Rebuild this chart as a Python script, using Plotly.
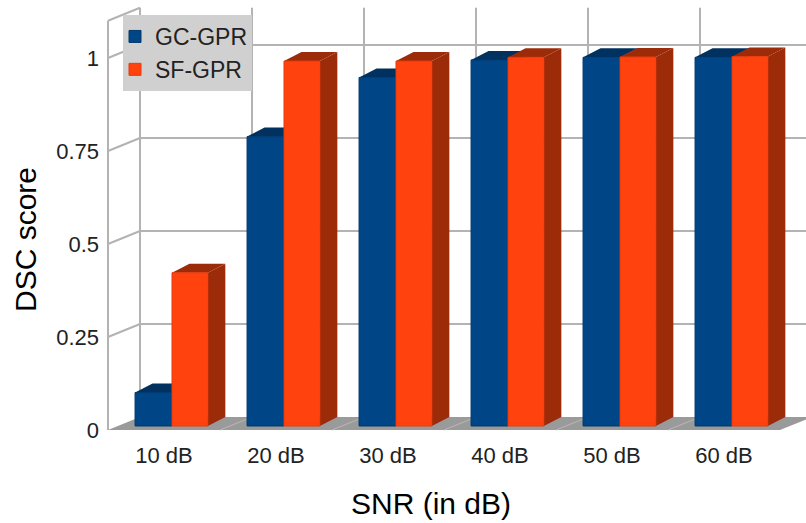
import plotly.graph_objects as go

# ---- data -------------------------------------------------------------
categories = ["10 dB", "20 dB", "30 dB", "40 dB", "50 dB", "60 dB"]
gc_gpr = [0.09, 0.778, 0.937, 0.984, 0.991, 0.991]
sf_gpr = [0.412, 0.981, 0.981, 0.991, 0.992, 0.993]
y_ticks = [0, 0.25, 0.5, 0.75, 1]
y_tick_text = ["0", "0.25", "0.5", "0.75", "1"]

# ---- canvas / scale ---------------------------------------------------
W, H = 806, 523
ML, MR, MT, MB = 100, 0, 0, 91
PX_X = 112.0          # pixels per category
PX_Y = 372.0          # pixels per unit of score
X0_PIX = 172.0        # pixel of category 0 (bar frame)
Y0_PIX = 426.0        # pixel of score 0 (bar frame)

x_range = [(ML - X0_PIX) / PX_X, (W - MR - X0_PIX) / PX_X]
y_range = [(Y0_PIX - (H - MB)) / PX_Y, (Y0_PIX - MT) / PX_Y]

# depth offsets (in data units) of the wall planes relative to bar fronts
BACK_DU, BACK_DV = 17.5 / PX_X, 9.0 / PX_Y
FRONT_DU, FRONT_DV = -14.5 / PX_X, -4.0 / PX_Y
BOUND0 = -0.442       # first category boundary
WALL_TOP = 1.1

BLUE, BLUE_TOP, BLUE_EDGE = "#004586", "#00315f", "#003a70"
ORANGE, ORANGE_TOP, ORANGE_EDGE = "#ff420e", "#9c2b09", "#e63b0c"
GRID = "#b3b3b3"
FLOOR = "#9a9a9a"
FONT = "Liberation Sans"

BAR_W_GC, OFF_GC = 0.33, -0.33
BAR_W_SF, OFF_SF = 0.32, 0.0

x_pos = list(range(len(categories)))

fig = go.Figure()
fig.add_bar(name="GC-GPR", x=x_pos, y=gc_gpr, width=BAR_W_GC, offset=OFF_GC,
            marker=dict(color=BLUE, line=dict(color=BLUE_EDGE, width=1)))
fig.add_bar(name="SF-GPR", x=x_pos, y=sf_gpr, width=BAR_W_SF, offset=OFF_SF,
            marker=dict(color=ORANGE, line=dict(color=ORANGE_EDGE, width=1)))

shapes = []


def poly(points, fill, line_color=None, width=0):
    d = "M" + " L".join(f"{px:.5f},{py:.5f}" for px, py in points) + " Z"
    return dict(type="path", path=d, xref="x", yref="y", layer="below",
                fillcolor=fill, line=dict(color=line_color or fill, width=width))


def seg(p, q, color=GRID, width=2):
    return dict(type="line", x0=p[0], y0=p[1], x1=q[0], y1=q[1],
                xref="x", yref="y", layer="below",
                line=dict(color=color, width=width))


n = len(categories)
bounds = [BOUND0 + k for k in range(n + 1)]

# back wall: horizontal gridlines and vertical category separators
for g in y_ticks[1:]:
    shapes.append(seg((bounds[0] + BACK_DU, g + BACK_DV),
                      (bounds[-1] + BACK_DU + 1, g + BACK_DV)))
for b in bounds:
    shapes.append(seg((b + BACK_DU, BACK_DV), (b + BACK_DU, WALL_TOP + BACK_DV)))

# left wall: front edge, top edge and tick diagonals
fx, bx = bounds[0] + FRONT_DU, bounds[0] + BACK_DU
shapes.append(seg((fx, FRONT_DV), (fx, WALL_TOP + FRONT_DV)))
shapes.append(seg((fx, WALL_TOP + FRONT_DV), (bx, WALL_TOP + BACK_DV)))
for g in y_ticks[1:]:
    shapes.append(seg((fx, g + FRONT_DV), (bx, g + BACK_DV)))

# floor
shapes.append(poly([(bounds[0] + FRONT_DU, FRONT_DV), (bounds[-1] + FRONT_DU, FRONT_DV),
                    (bounds[-1] + BACK_DU, BACK_DV), (bounds[0] + BACK_DU, BACK_DV)],
                   FLOOR))
for b in bounds[1:-1]:
    shapes.append(seg((b + FRONT_DU, FRONT_DV), (b + BACK_DU, BACK_DV),
                      color="#b8b8b8", width=1))

# bar sides and tops
for i in range(n):
    for vals, off, w, top in ((gc_gpr, OFF_GC, BAR_W_GC, BLUE_TOP),
                              (sf_gpr, OFF_SF, BAR_W_SF, ORANGE_TOP)):
        v = vals[i]
        xl, xr = i + off, i + off + w
        shapes.append(poly([(xr, 0), (xr, v), (xr + BACK_DU, v + BACK_DV),
                            (xr + BACK_DU, BACK_DV)], top))
        shapes.append(poly([(xl, v), (xr, v), (xr + BACK_DU, v + BACK_DV),
                            (xl + BACK_DU, v + BACK_DV)], top))


def px_to_paper(px, py):
    return (px - ML) / (W - ML - MR), (H - MB - py) / (H - MT - MB)


ax_x, ax_y = px_to_paper(431, 503)
ay_x, ay_y = px_to_paper(25, 240)
lg_x, lg_y = px_to_paper(123, 15)

fig.update_layout(
    width=W, height=H,
    margin=dict(l=ML, r=MR, t=MT, b=MB),
    paper_bgcolor="white", plot_bgcolor="white",
    shapes=shapes,
    showlegend=True,
    legend=dict(x=lg_x, y=lg_y, xanchor="left", yanchor="top",
                bgcolor="#d0d0d0", borderwidth=0, indentation=-8,
                font=dict(family=FONT, size=23, color="#222"),
                traceorder="normal"),
    font=dict(family=FONT),
    annotations=[
        dict(text="SNR (in dB)", x=ax_x, y=ax_y, xref="paper", yref="paper",
             xanchor="center", yanchor="middle", showarrow=False,
             font=dict(family=FONT, size=30, color="#000")),
        dict(text="DSC score", x=ay_x, y=ay_y, xref="paper", yref="paper",
             xanchor="center", yanchor="middle", showarrow=False, textangle=-90,
             font=dict(family=FONT, size=30, color="#000")),
    ],
)
fig.update_xaxes(range=x_range, tickvals=x_pos, ticktext=categories,
                 showgrid=False, zeroline=False, showline=False, ticks="",
                 ticklabelshift=-8, ticklabelstandoff=8,
                 tickfont=dict(family=FONT, size=22, color="#222"))
fig.update_yaxes(range=y_range, tickvals=y_ticks, ticktext=y_tick_text,
                 showgrid=False, zeroline=False, showline=False, ticks="",
                 ticklabelshift=4, ticklabelstandoff=0,
                 tickfont=dict(family=FONT, size=22, color="#222"))

fig.write_html("out.html")
